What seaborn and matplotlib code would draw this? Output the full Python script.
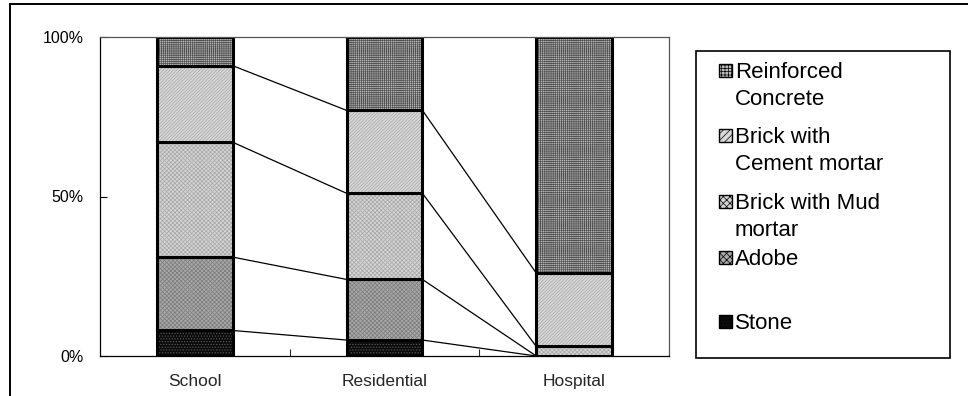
import numpy as np
import pandas as pd
import matplotlib
matplotlib.use("Agg")
import matplotlib.pyplot as plt
from matplotlib.patches import Rectangle
import seaborn as sns

# data (percent of buildings per structure type)
categories = ["School", "Residential", "Hospital"]
stone = [8, 5, 0]
adobe = [23, 19, 0]
brick_mud = [36, 27, 3]
brick_cement = [24, 26, 23]
reinforced_concrete = [9, 23, 74]

series_names = ["Stone", "Adobe", "Brick with Mud mortar",
                "Brick with Cement mortar", "Reinforced Concrete"]
legend_labels = ["Reinforced\nConcrete", "Brick with\nCement mortar",
                 "Brick with Mud\nmortar", "Adobe", "Stone"]
ytick_vals = [0, 50, 100]
ytick_labels = ["0%", "50%", "100%"]

df = pd.DataFrame({"category": categories,
                   "Stone": stone,
                   "Adobe": adobe,
                   "Brick with Mud mortar": brick_mud,
                   "Brick with Cement mortar": brick_cement,
                   "Reinforced Concrete": reinforced_concrete})

# face colour, hatch colour, hatch pattern  (Excel-like fine fill patterns)
styles = {
    "Stone": ("#0c0c0c", "#5a5a5a", "......"),
    "Adobe": ("#a8a8a8", "#7c7c7c", "xxxxxxxx"),
    "Brick with Mud mortar": ("#d4d4d4", "#a8a8a8", "xxxxxxxx"),
    "Brick with Cement mortar": ("#d8d8d8", "#a4a4a4", "//////////"),
    "Reinforced Concrete": ("#bcbcbc", "#505050", "++++++++"),
}

sns.set_theme(style="white")
plt.rcParams["font.family"] = ["Liberation Sans", "DejaVu Sans"]
plt.rcParams["hatch.linewidth"] = 0.5

fig = plt.figure(figsize=(9.68, 3.96), dpi=100)
W, H = 968, 396
ax = fig.add_axes([100 / W, 1 - 356 / H, 569 / W, 319 / H])

bar_w = 0.4
bottom = np.zeros(len(categories))
tops = []
for name in series_names:
    face, hcol, hatch = styles[name]
    sns.barplot(data=df, x="category", y=name, bottom=bottom, width=bar_w,
                color=face, saturation=1, edgecolor=hcol, linewidth=0,
                hatch=hatch, errorbar=None, ax=ax)
    sns.barplot(data=df, x="category", y=name, bottom=bottom, width=bar_w,
                color="black", fill=False, linewidth=2.2, errorbar=None, ax=ax)
    bottom = bottom + df[name].to_numpy()
    tops.append(bottom.copy())

# series lines between the bars (tops of all but the last layer)
xs = np.arange(len(categories))
for top in tops[:-1]:
    for i in range(len(categories) - 1):
        ax.plot([xs[i] + bar_w / 2, xs[i + 1] - bar_w / 2], [top[i], top[i + 1]],
                color="black", lw=0.9, zorder=1)

ax.set_xlim(-0.5, len(categories) - 0.5)
ax.set_ylim(0, 100)
ax.set_yticks(ytick_vals)
ax.set_yticklabels(ytick_labels)
ax.set_xticks(xs)
ax.set_xticklabels(categories)
ax.set_xticks(xs[:-1] + 0.5, minor=True)
ax.set_xlabel("")
ax.set_ylabel("")
ax.tick_params(axis="y", direction="in", length=5, width=0.8, pad=12,
               labelsize=11.5, left=True, colors="black")
ax.tick_params(axis="x", which="major", length=0, pad=13, labelsize=12.5)
ax.tick_params(axis="x", which="minor", direction="in", length=5, width=0.8,
               bottom=True)
for s in ax.spines.values():
    s.set_visible(True)
    s.set_color("black")
    s.set_linewidth(0.9)
ax.spines["top"].set_color("#555555")
ax.spines["right"].set_color("#555555")

# outer chart border (left and top visible)
fig.add_artist(Rectangle((10 / W, -0.2), 1.0, 1.2 - 4 / H, transform=fig.transFigure,
                         fill=False, lw=1.4, ec="black"))

# legend box drawn Excel-style
fig.add_artist(Rectangle((696 / W, 1 - 358 / H), 254 / W, 307 / H,
                         transform=fig.transFigure, fill=True, fc="white",
                         lw=1.2, ec="black"))
legend_order = series_names[::-1]
baselines = [78, 143, 209, 265, 329]
for name, label, yb in zip(legend_order, legend_labels, baselines):
    face, hcol, hatch = styles[name]
    fig.add_artist(Rectangle((719 / W, 1 - (yb - 1) / H), 13 / W, 13 / H,
                             transform=fig.transFigure, fc=face, ec="black",
                             lw=1.0, hatch=hatch[:5]))
    fig.text(735 / W, 1 - (yb - 16) / H, label, fontsize=16, va="top",
             ha="left", linespacing=1.35, color="black")

fig.savefig("out.png", dpi=100)
